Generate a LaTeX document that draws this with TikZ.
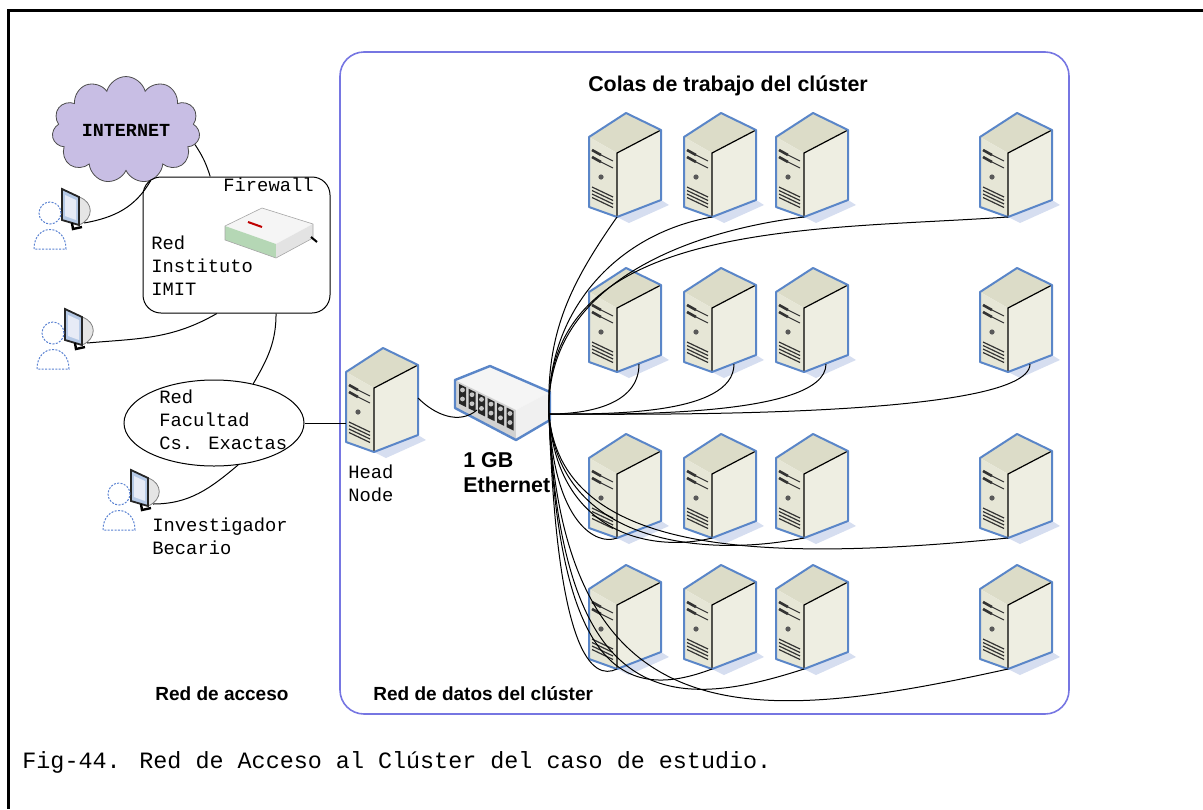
\documentclass[tikz,border=0pt]{standalone}
\usepackage{fontspec}
\newfontfamily\courier{Liberation Mono}
\newfontfamily\arial{Liberation Sans}
\usetikzlibrary{shapes.geometric}
\usetikzlibrary{shapes.symbols}
\usetikzlibrary{positioning}

\definecolor{srvtop}{RGB}{220,220,200}
\definecolor{srvfront}{RGB}{230,230,214}
\definecolor{srvside}{RGB}{238,238,226}
\definecolor{srvedge}{RGB}{90,134,200}
\definecolor{srvshadow}{RGB}{214,222,240}
\definecolor{clusterblue}{RGB}{118,118,226}
\definecolor{cloudfill}{RGB}{200,190,228}
\definecolor{userblue}{RGB}{90,130,210}

\tikzset{
  % tower server, origin at the middle of the box
  server/.pic={
    \fill[srvshadow] (-8,-52) -- (36,-35) -- (44,-40) -- (4,-58) -- cycle;
    \fill[srvtop] (-36,28) -- (1,52) -- (36,35) -- (-8,12) -- cycle;
    \fill[srvfront] (-36,28) -- (-8,12) -- (-8,-52) -- (-36,-42) -- cycle;
    \fill[srvside] (-8,12) -- (36,35) -- (36,-35) -- (-8,-52) -- cycle;
    % front panel
    \draw[line width=1.3pt, black!80] (-33,15) -- (-24,10);
    \draw[line width=0.5pt, black!80] (-24,10) .. controls (-18,7) .. (-12,4);
    \draw[line width=1.3pt, black!80] (-33,8) -- (-24,3);
    \draw[line width=0.5pt, black!80] (-24,3) .. controls (-18,0) .. (-12,-3);
    \fill[black!65] (-24,-12) circle (1.3pt);
    \foreach \v in {0,...,3}
      \draw[line width=0.6pt, black!80] (-33,-22-3.5*\v) -- (-12,-32-3.5*\v);
    \draw[line width=0.6pt] (-8,-52) -- (-8,12) -- (36,35);
    \draw[srvedge, line width=1pt, line join=round]
      (-36,28) -- (1,52) -- (36,35) -- (36,-35) -- (-8,-52) -- (-36,-42) -- cycle;
    \coordinate (-bot) at (-8,-52);
    \coordinate (-side) at (14,-44);
    \coordinate (-west) at (-36,-23);
    \coordinate (-east) at (36,2);
  },
  % ethernet switch
  switch/.pic={
    \fill[black!4] (-45,25) -- (-10,39) -- (50,13) -- (16,-5) -- cycle;
    \fill[gray!35] (-45,25) -- (16,-5) -- (16,-35) -- (-45,-3) -- cycle;
    \fill[gray!12] (16,-5) -- (50,13) -- (50,-15) -- (16,-35) -- cycle;
    \foreach \k in {0,...,5} {
      \pgfmathsetmacro\px{-41+9.5*\k}
      \pgfmathsetmacro\py{21-4.7*\k}
      \fill[black!85] (\px,\py) -- (\px+7,\py-3.4) -- (\px+7,\py-23) -- (\px,\py-19.6) -- cycle;
      \fill[gray!45] (\px+3.5,\py-6) circle (1.2pt) (\px+3.5,\py-15) circle (1.2pt);
    }
    \draw[srvedge, line width=1.2pt, line join=round]
      (-45,25) -- (-10,39) -- (50,13) -- (50,-15) -- (16,-35) -- (-45,-3) -- cycle;
    \coordinate (-port) at (-23,-5);
    \coordinate (-hub) at (49,-9);
  },
  % user at a screen
  user/.pic={
    \filldraw[fill=black!10, draw=black!50, line width=0.4pt]
      (3,10) .. controls (18,5) and (18,-12) .. (3,-18) -- cycle;
    \filldraw[fill=srvedge!45, draw=black!85, line width=0.9pt]
      (-14,18) -- (3,10) -- (3,-18) -- (-14,-13) -- cycle;
    \fill[srvshadow!60] (-11,12) -- (0,7) -- (0,-13) -- (-11,-9) -- cycle;
    \draw[line width=1.2pt] (-4,-16) -- (-3,-22) -- (6,-20);
    \filldraw[fill=white, draw=userblue, dash pattern=on 1pt off 0.7pt, line width=0.5pt]
      (-42,-42) .. controls (-42,-16) and (-10,-16) .. (-10,-42) -- cycle
      (-26,-6) circle (5.5pt);
    \coordinate (-plug) at (8,-16);
  }
}

\begin{document}
\begin{tikzpicture}[x=0.5pt,y=0.5pt,
  wire/.style={line width=0.5pt},
  lbl/.style={font=\courier\fontsize{9.4}{11.5}\selectfont, align=left, inner sep=0pt, anchor=west},
  heading/.style={font=\arial\bfseries\fontsize{10.7}{12.5}\selectfont, inner sep=0pt},
  area/.style={font=\arial\bfseries\fontsize{9.5}{11}\selectfont, inner sep=0pt, anchor=west},
  eth/.style={heading, align=left, anchor=west}]

\useasboundingbox (0,0) rectangle (1203,-809);
\draw[line width=1.5pt] (1203,-10) -- (8,-10) -- (8,-809);

% cluster area
\draw[clusterblue, line width=0.8pt, rounded corners=12pt] (340,-52) rectangle (1069,-714);

% access side
\node[cloud, cloud puffs=11, aspect=1.5, draw=black!70, fill=cloudfill,
  minimum width=74pt, minimum height=50pt, inner sep=0pt,
  font=\courier\bfseries\fontsize{9.2}{11}\selectfont] (inet) at (126,-130) {INTERNET};
\node[draw, rounded corners=9pt, minimum width=93.5pt, minimum height=68pt, line width=0.5pt] (fwbox) at (236.5,-245) {};
\node[ellipse, draw, minimum width=90pt, minimum height=43pt, line width=0.5pt] (fac) at (214,-423) {};

% firewall device
\fill[black!4] (225,-226) -- (262,-208) -- (313,-224) -- (276,-244) -- cycle;
\fill[green!30!gray!45] (225,-226) -- (276,-244) -- (276,-258) -- (225,-240) -- cycle;
\fill[gray!22] (276,-244) -- (313,-224) -- (313,-238) -- (276,-258) -- cycle;
\draw[red!75!black, line width=1pt] (248,-222) -- (262,-227);
\draw[gray!70, line width=0.3pt] (225,-226) -- (262,-208) -- (313,-224) -- (313,-238) -- (276,-258) -- (225,-240) -- cycle;
\draw[line width=1pt] (311,-237) -- (317,-242);

\pic (u1) at (76,-207) {user};
\pic (u2) at (79,-327) {user};
\pic (u3) at (145,-488) {user};

\node[lbl] (fwname) at (223,-185) {Firewall};
\node[lbl] (imit) at (151,-266) {Red\\Instituto\\IMIT};
\node[lbl] (facname) at (159,-420) {Red\\Facultad\\Cs. Exactas};
\node[lbl] (becario) at (152,-536) {Investigador\\Becario};

% cluster side
\pic (head) at (382,-400) {server};
\pic (sw) at (500,-405) {switch};
\node[lbl] (headname) at (348,-483) {Head\\Node};
\node[eth] (ethname) at (463,-473) {1 GB\\Ethernet};

\foreach \r/\y in {1/165,2/320,3/486,4/617}
  \foreach \c/\x in {1/625,2/720,3/812,4/1016}
    \pic (s\r\c) at (\x,-\y) {server};

\node[heading] (colas) at (728,-86) {Colas de trabajo del clúster};
\node[area] (acceso) at (155,-694) {Red de acceso};
\node[area] (datos) at (373,-694) {Red de datos del clúster};

% links
\draw[wire] (inet.-12) to[bend left=8] (fwbox.111);
\draw[wire] (inet.-64) to[out=-120,in=10] (u1-plug);
\draw[wire] (fwbox.-106) to[out=-150,in=5] (u2-plug);
\draw[wire] (fwbox.-60) to[out=-90,in=60] (fac.45);
\draw[wire] (fac.-60) to[out=-140,in=0] (u3-plug);
\draw[wire] (fac.east) -- (head-west);
\draw[wire] (head-east) to[out=-45,in=-140] (sw-port);

% cables from the switch
\foreach \c/\i in {1/235,2/190,3/187,4/184}
  \draw[wire] (sw-hub) to[out=92,in=\i] (s1\c-bot);
\foreach \c/\l in {1/1,2/0.7,3/0.5,4/0.3}
  \draw[wire] (sw-hub) to[out=0,in=-90,looseness=\l] (s2\c-side);
\foreach \c/\a/\b/\d/\e in {1/5/110/20/8, 2/8/120/60/15, 3/10/130/100/20, 4/12/140/250/25}
  \draw[wire] (sw-hub) .. controls +(\a,-\b) and +(-\d,-\e) .. (s3\c-bot);
\foreach \c/\a/\b/\d/\e in {1/8/240/25/12, 2/10/270/80/30, 3/12/300/130/42, 4/15/330/250/55}
  \draw[wire] (sw-hub) .. controls +(\a,-\b) and +(-\d,-\e) .. (s4\c-bot);

\node[lbl, font=\courier\fontsize{11.7}{14}\selectfont] (fig) at (22,-762) {Fig-44. Red de Acceso al Clúster del caso de estudio.};
\end{tikzpicture}
\end{document}
